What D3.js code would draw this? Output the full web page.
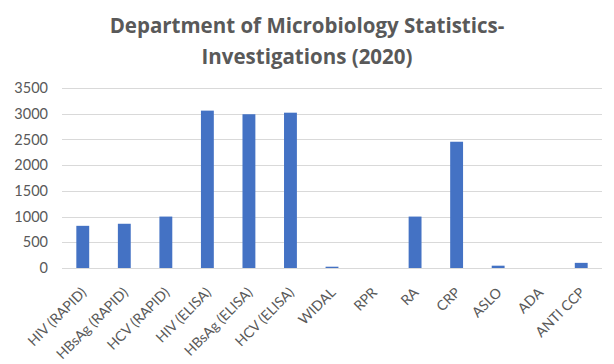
<!DOCTYPE html>
<html>
<head>
<meta charset="utf-8">
<script src="https://cdn.jsdelivr.net/npm/d3@7"></script>
<style>
  body { margin: 0; background: #fff; }
  svg { font-family: "Open Sans", "Liberation Sans", sans-serif; }
</style>
</head>
<body>
<svg id="chart" width="614" height="364"></svg>
<script>
// Chart data
const categories = ["HIV (RAPID)", "HBsAg (RAPID)", "HCV (RAPID)", "HIV (ELISA)", "HBsAg (ELISA)",
  "HCV (ELISA)", "WIDAL", "RPR", "RA", "CRP", "ASLO", "ADA", "ANTI CCP"];
const investigations = [820, 860, 1000, 3060, 2990, 3020, 25, 0, 1000, 2455, 45, 0, 100];
const yTicks = [0, 500, 1000, 1500, 2000, 2500, 3000, 3500];
const titleLines = ["Department of Microbiology Statistics-", "Investigations (2020)"];

const width = 614, height = 364;
const margin = { top: 88, right: 12, bottom: 96, left: 62 };

const svg = d3.select("#chart");

// Scales
const x = d3.scaleBand()
  .domain(categories)
  .range([margin.left, width - margin.right])
  .paddingInner(0.69)
  .paddingOuter(0.345);

const y = d3.scaleLinear()
  .domain([0, 3500])
  .range([height - margin.bottom, margin.top]);

// Gridlines
svg.append("g")
  .selectAll("line")
  .data(yTicks)
  .join("line")
  .attr("x1", margin.left)
  .attr("x2", width - margin.right)
  .attr("y1", d => Math.round(y(d)) + 0.5)
  .attr("y2", d => Math.round(y(d)) + 0.5)
  .attr("stroke", "#d9d9d9")
  .attr("stroke-width", 1);

// Y axis labels
const yAxis = d3.axisLeft(y).tickValues(yTicks).tickFormat(d3.format("d")).tickSize(0).tickPadding(14);
svg.append("g")
  .attr("transform", `translate(${margin.left},0)`)
  .call(yAxis)
  .attr("font-family", "Lato, sans-serif")
  .call(g => g.select(".domain").remove())
  .selectAll("text")
  .attr("fill", "#595959")
  .style("font-size", "14.5px");

// Bars
svg.append("g")
  .selectAll("rect")
  .data(investigations)
  .join("rect")
  .attr("x", (d, i) => x(categories[i]))
  .attr("y", d => y(d))
  .attr("width", x.bandwidth())
  .attr("height", d => y(0) - y(d))
  .attr("fill", "#4472c4");

// X axis labels, rotated
const xAxis = d3.axisBottom(x).tickSize(0).tickPadding(0);
svg.append("g")
  .attr("transform", `translate(0,${y(0)})`)
  .call(xAxis)
  .attr("font-family", "Lato, sans-serif")
  .call(g => g.select(".domain").remove())
  .selectAll("text")
  .attr("fill", "#595959")
  .style("font-size", "14px")
  .attr("text-anchor", "end")
  .attr("dy", "0.35em")
  .attr("transform", "translate(1,22) rotate(-45)");

// Title
svg.append("text")
  .attr("x", width / 2)
  .attr("y", 33)
  .attr("text-anchor", "middle")
  .attr("fill", "#595959")
  .style("font-size", "20.5px")
  .style("font-weight", "bold")
  .selectAll("tspan")
  .data(titleLines)
  .join("tspan")
  .attr("x", width / 2)
  .attr("dy", (d, i) => i === 0 ? 0 : 31)
  .text(d => d);
</script>
</body>
</html>
